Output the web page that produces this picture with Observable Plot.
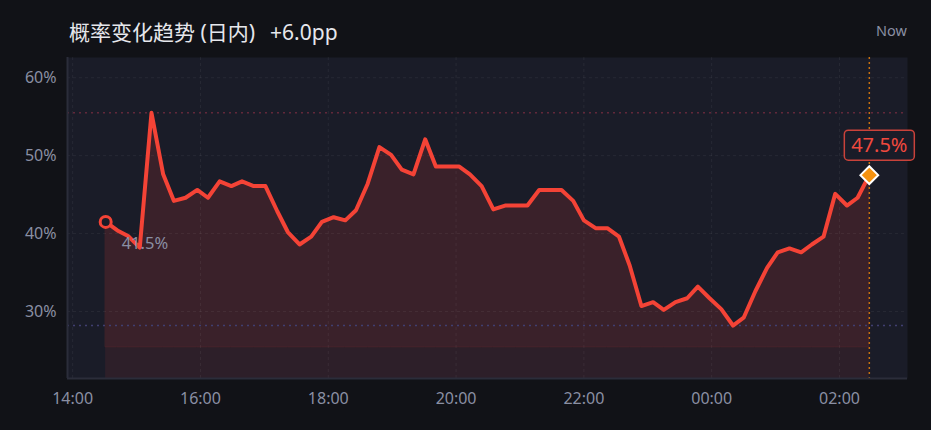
<!DOCTYPE html>
<html>
<head>
<meta charset="utf-8">
<script src="https://cdn.jsdelivr.net/npm/d3@7"></script>
<script src="https://cdn.jsdelivr.net/npm/@observablehq/plot@0.6"></script>
<style>
  body { margin: 0; background: #111217; width: 931px; height: 430px; overflow: hidden; font-family: "Noto Sans", sans-serif; }
  #head { position: relative; height: 57px; }
  #title { position: absolute; left: 69px; top: 20px; line-height: 24px; font-size: 21px; color: #e6e7ec; font-family: "Noto Sans", "Noto Sans CJK SC", sans-serif; white-space: nowrap; }
  #title .delta { margin-left: 15px; }
  #now { position: absolute; right: 24px; top: 20px; line-height: 20px; font-size: 14.5px; color: #8a8fa3; }
</style>
</head>
<body>
<div id="head">
  <div id="title">概率变化趋势 (日内)<span class="delta">+6.0pp</span></div>
  <div id="now">Now</div>
</div>
<div id="chart"></div>
<script>
// readings, local clock time (after midnight = next day)
const times = [
  "14:31","14:42","14:52","15:03","15:14","15:25","15:35","15:46","15:57","16:07",
  "16:18","16:29","16:39","16:50","17:01","17:12","17:22","17:33","17:44","17:54",
  "18:05","18:16","18:26","18:37","18:48","18:59","19:09","19:20","19:31","19:41",
  "19:52","20:03","20:13","20:24","20:35","20:46","20:56","21:07","21:18","21:28",
  "21:39","21:50","22:00","22:11","22:22","22:33","22:43","22:54","23:05","23:15",
  "23:26","23:37","23:47","23:58","00:09","00:20","00:30","00:41","00:52","01:02",
  "01:13","01:24","01:34","01:45","01:56","02:07","02:17","02:28"
];
const probs = [
  41.5, 40.4, 39.7, 38.2, 55.5, 47.6, 44.2, 44.6, 45.6, 44.6,
  46.7, 46.1, 46.7, 46.1, 46.1, 42.9, 40.2, 38.6, 39.6, 41.5,
  42.1, 41.7, 43.0, 46.4, 51.1, 50.1, 48.2, 47.6, 52.1, 48.6,
  48.6, 48.6, 47.6, 46.1, 43.1, 43.6, 43.6, 43.6, 45.6, 45.6,
  45.6, 44.2, 41.7, 40.7, 40.7, 39.6, 35.9, 30.7, 31.2, 30.2,
  31.2, 31.7, 33.2, 31.7, 30.3, 28.2, 29.2, 32.6, 35.6, 37.6,
  38.1, 37.6, 38.6, 39.6, 45.1, 43.6, 44.6, 47.5
];
const yTicks = [30, 40, 50, 60];
const xTickLabels = ["14:00", "16:00", "18:00", "20:00", "22:00", "00:00", "02:00"];
const yDomain = [21.4, 62.6];
const bandLevel = 25.4;

const red = "#f44336";
const plotBg = "#1a1c28";

function toDate(s) {
  const [h, m] = s.split(":").map(Number);
  return new Date(2024, 0, h < 12 ? 2 : 1, h, m);
}

const data = times.map((t, i) => ({t: toDate(t), v: probs[i]}));
const first = data[0];
const last = data[data.length - 1];
const span = last.t - first.t;
const xDomain = [new Date(+first.t - span * 0.05), new Date(+last.t + span * 0.05)];
const xTicks = xTickLabels.map(toDate);
const vMax = d3.max(probs);
const vMin = d3.min(probs);

// rounded box drawn as a dot symbol around the latest value
const labelBox = {
  draw(ctx) {
    const w = 35, h = 15, r = 4;
    ctx.moveTo(-w + r, -h);
    ctx.lineTo(w - r, -h);
    ctx.arcTo(w, -h, w, -h + r, r);
    ctx.lineTo(w, h - r);
    ctx.arcTo(w, h, w - r, h, r);
    ctx.lineTo(-w + r, h);
    ctx.arcTo(-w, h, -w, h - r, r);
    ctx.lineTo(-w, -h + r);
    ctx.arcTo(-w, -h, -w + r, -h, r);
    ctx.closePath();
  }
};

const chart = Plot.plot({
  width: 931,
  height: 373,
  marginTop: 0,
  marginBottom: 52,
  marginLeft: 67,
  marginRight: 24,
  style: {background: "transparent", color: "#8a8fa3", fontFamily: "Noto Sans, sans-serif", fontSize: "16px"},
  x: {type: "time", domain: xDomain},
  y: {domain: yDomain},
  marks: [
    Plot.frame({fill: plotBg, stroke: null}),
    Plot.areaY(data, {x: "t", y1: yDomain[0], y2: "v", fill: red, fillOpacity: 0.09}),
    Plot.areaY(data, {x: "t", y1: bandLevel, y2: "v", fill: red, fillOpacity: 0.07, stroke: red, strokeOpacity: 0.1, strokeWidth: 1}),
    Plot.gridY(yTicks, {stroke: "#ffffff", strokeOpacity: 0.06, strokeDasharray: "3,3"}),
    Plot.gridX(xTicks, {stroke: "#ffffff", strokeOpacity: 0.06, strokeDasharray: "3,3"}),
    Plot.ruleY([vMax], {stroke: "#62283a", strokeWidth: 1.5, strokeDasharray: "2,4"}),
    Plot.ruleY([vMin], {stroke: "#403f70", strokeWidth: 1.5, strokeDasharray: "2,4"}),
    Plot.ruleX([last.t], {stroke: "#c8700f", strokeWidth: 1.5, strokeDasharray: "2,3"}),
    Plot.ruleX([xDomain[0]], {stroke: "#2b2d3a", strokeWidth: 2}),
    Plot.ruleY([yDomain[0]], {stroke: "#2b2d3a", strokeWidth: 2}),
    Plot.axisY(yTicks, {tickSize: 0, tickPadding: 11, tickFormat: d => d + "%", fill: "#8a8fa3", fontSize: 16, label: null}),
    Plot.axisX(xTicks, {tickSize: 0, tickPadding: 14, tickFormat: (d, i) => xTickLabels[i], fill: "#8a8fa3", fontSize: 16, label: null}),
    Plot.line(data, {x: "t", y: "v", stroke: red, strokeWidth: 4, strokeLinejoin: "round", strokeLinecap: "round"}),
    Plot.dot([first], {x: "t", y: "v", r: 5.5, stroke: red, strokeWidth: 3, fill: plotBg}),
    Plot.text([first], {x: "t", y: "v", text: d => d.v.toFixed(1) + "%", dx: 16, dy: 22, textAnchor: "start", fill: "#8a8fa3", fontSize: 16.5}),
    Plot.dot([last], {x: "t", y: "v", dx: 10, dy: -30, symbol: labelBox, r: 10, fill: plotBg, stroke: "#c9423a", strokeWidth: 1.5}),
    Plot.text([last], {x: "t", y: "v", text: d => d.v.toFixed(1) + "%", dx: 10, dy: -30, fill: "#f0493e", fontSize: 20}),
    Plot.dot([last], {x: "t", y: "v", symbol: "diamond2", r: 8, fill: "#f5920f", stroke: "white", strokeWidth: 2})
  ]
});

document.getElementById("chart").appendChild(chart);
</script>
</body>
</html>
